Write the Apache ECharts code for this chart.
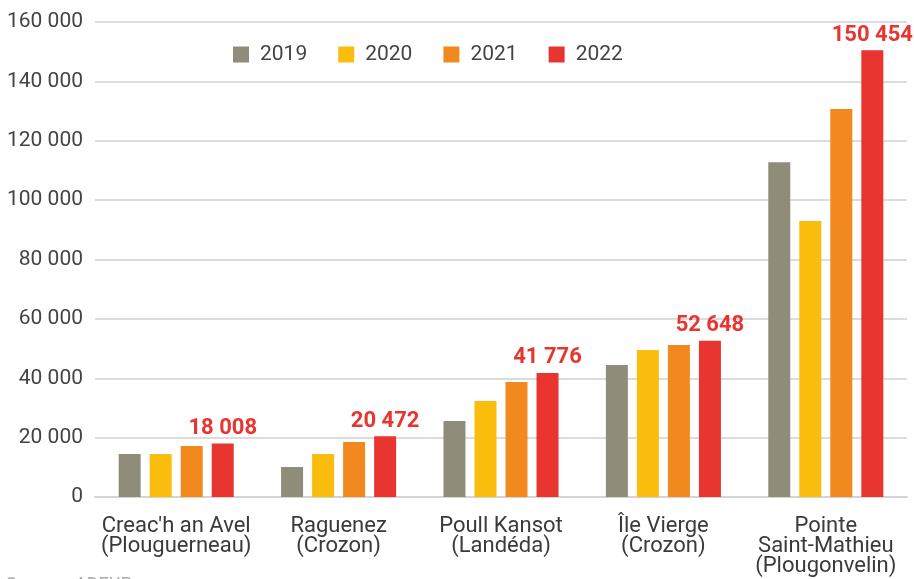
<!DOCTYPE html>
<html><head><meta charset="utf-8">
<script src="https://cdn.jsdelivr.net/npm/echarts@6/dist/echarts.min.js"></script>
<style>html,body{margin:0;padding:0;background:#fff}#c{width:914px;height:579px}</style>
</head><body><div id="c"></div>
<script>
const categories = ["Creac'h an Avel\n(Plouguerneau)", "Raguenez\n(Crozon)", "Poull Kansot\n(Landéda)", "Île Vierge\n(Crozon)", "Pointe\nSaint-Mathieu\n(Plougonvelin)"];
const years = ["2019", "2020", "2021", "2022"];
const v2019 = [14500, 10100, 25600, 44500, 112800];
const v2020 = [14500, 14500, 32300, 49500, 93000];
const v2021 = [17200, 18500, 38700, 51200, 130700];
const v2022 = [18008, 20472, 41776, 52648, 150454];
const colors = ["#8f8d79", "#fbbd0d", "#f1891f", "#e8352f"];
const fmt = v => String(v).replace(/\B(?=(\d{3})+(?!\d))/g, ' ');
const chart = echarts.init(document.getElementById('c'));
const all = [v2019, v2020, v2021, v2022];
chart.setOption({
  animation: false,
  textStyle: {fontFamily: 'Roboto'},
  legend: {
    top: 39, left: 228, itemWidth: 16, itemHeight: 16, itemGap: 31,
    icon: 'rect',
    textStyle: {fontSize: 21, color: '#444', fontFamily: 'Roboto', padding: [0, 0, 0, 6]},
    data: years
  },
  grid: {left: 95, width: 812, top: 22, bottom: 82},
  xAxis: {
    type: 'category', data: categories,
    axisLine: {lineStyle: {color: '#d4d4d4', width: 2}},
    axisTick: {show: false},
    axisLabel: {fontSize: 22, color: '#3a3a3a', lineHeight: 20, margin: 19, interval: 0, fontFamily: 'Roboto'}
  },
  yAxis: {
    type: 'value', min: 0, max: 160000, interval: 20000,
    axisLabel: {formatter: v => fmt(v), fontSize: 21, color: '#444', margin: 12, fontFamily: 'Roboto'},
    splitLine: {lineStyle: {color: '#dcdcdc', width: 2}}
  },
  series: all.map((d, i) => ({
    name: years[i], type: 'bar', data: d, barWidth: 22, barGap: '41%',
    itemStyle: {color: colors[i]},
    label: i === 3 ? {show: true, position: 'top', distance: 4, formatter: p => fmt(p.value),
      fontSize: 22, fontWeight: 'bold', color: '#e8352f', fontFamily: 'Roboto'} : {show: false}
  })),
  graphic: [{type: 'text', left: 6, top: 576, style: {text: 'Source : ADEUPa', fontSize: 18, fill: '#aaa', fontFamily: 'Roboto'}}]
});
</script></body></html>
